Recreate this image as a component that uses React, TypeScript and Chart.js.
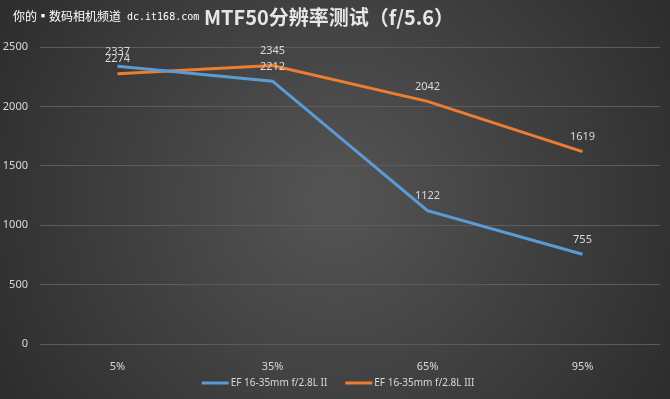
import React, { useEffect, useRef } from "react";
import { Chart, registerables } from "chart.js";

Chart.register(...registerables);

const categories = ["5%", "35%", "65%", "95%"];
const seriesIIName = "EF 16-35mm f/2.8L II";
const seriesIIIName = "EF 16-35mm f/2.8L III";
const seriesII = [2337, 2212, 1122, 755];
const seriesIII = [2274, 2345, 2042, 1619];
const yTicks = [0, 500, 1000, 1500, 2000, 2500];
const titleText = "MTF50分辨率测试（f/5.6）";
const watermarkCn = "你的▪数码相机频道";
const watermarkUrl = "dc.it168.com";

const BLUE = "#5b9bd5";
const ORANGE = "#ed7d31";
const TEXT = "#d9d9d9";

const bgPlugin = {
  id: "bgPlugin",
  beforeDraw(chart: any) {
    const { ctx, width, height } = chart;
    ctx.save();
    const g = ctx.createRadialGradient(width / 2, height / 2, 20, width / 2, height / 2, width * 0.62);
    g.addColorStop(0, "#535353");
    g.addColorStop(1, "#2a2a2a");
    ctx.fillStyle = g;
    ctx.fillRect(0, 0, width, height);
    ctx.restore();
  },
  afterDraw(chart: any) {
    const { ctx, width } = chart;
    ctx.save();
    ctx.textBaseline = "middle";
    ctx.fillStyle = "#ffffff";
    ctx.textAlign = "left";
    ctx.font = "12px 'Noto Sans CJK SC', sans-serif";
    ctx.fillText(watermarkCn, 13, 16);
    ctx.font = "10px 'DejaVu Sans Mono', monospace";
    ctx.fillText(watermarkUrl, 127, 17);
    ctx.fillStyle = "#e6e6e6";
    ctx.textAlign = "center";
    ctx.font = "bold 20px 'Noto Sans CJK SC', sans-serif";
    ctx.fillText(titleText, 329, 17);

    // legend
    ctx.font = "10px 'Noto Sans', sans-serif";
    const items = chart.data.datasets.map((ds: any) => ({
      text: ds.label,
      color: ds.borderColor,
      w: ctx.measureText(ds.label).width,
    }));
    const sw = 27;
    const gapText = 2;
    const gapItem = 18;
    let total = 0;
    items.forEach((it: any, i: number) => {
      total += sw + gapText + it.w + (i < items.length - 1 ? gapItem : 0);
    });
    let x = width / 2 + 3 - total / 2;
    const y = 383;
    ctx.textAlign = "left";
    items.forEach((it: any) => {
      ctx.fillStyle = it.color;
      ctx.fillRect(x, y - 1.5, sw, 3);
      x += sw + gapText;
      ctx.fillStyle = TEXT;
      ctx.fillText(it.text, x, y);
      x += it.w + gapItem;
    });
    ctx.restore();
  },
};

const labelPlugin = {
  id: "labelPlugin",
  afterDatasetsDraw(chart: any) {
    const { ctx } = chart;
    ctx.save();
    ctx.font = "11px 'Noto Sans', sans-serif";
    ctx.fillStyle = TEXT;
    ctx.textAlign = "center";
    ctx.textBaseline = "middle";
    chart.data.datasets.forEach((ds: any, i: number) => {
      const meta = chart.getDatasetMeta(i);
      meta.data.forEach((pt: any, j: number) => {
        ctx.fillText(String(ds.data[j]), pt.x, pt.y - 14.5);
      });
    });
    ctx.restore();
  },
};

export default function App() {
  const ref = useRef<HTMLCanvasElement>(null);
  useEffect(() => {
    document.body.style.margin = "0";
    Chart.defaults.font.family = "'Noto Sans', 'Noto Sans CJK SC', sans-serif";
    const chart = new Chart(ref.current!, {
      type: "line",
      data: {
        labels: categories,
        datasets: [
          {
            label: seriesIIName,
            data: seriesII,
            borderColor: BLUE,
            backgroundColor: BLUE,
            borderWidth: 3,
            pointRadius: 0,
            tension: 0,
          },
          {
            label: seriesIIIName,
            data: seriesIII,
            borderColor: ORANGE,
            backgroundColor: ORANGE,
            borderWidth: 3,
            pointRadius: 0,
            tension: 0,
          },
        ],
      },
      options: {
        animation: false,
        responsive: false,
        layout: { padding: { top: 47, right: 10, left: 0, bottom: 29 } },
        plugins: {
          title: { display: false },
          tooltip: { enabled: false },
          legend: { display: false },
        },
        scales: {
          x: {
            offset: true,
            grid: { display: false },
            border: { display: false },
            ticks: { color: TEXT, font: { size: 11 }, padding: 8 },
            afterFit: (s: any) => {
              s.height = 26;
            },
          },
          y: {
            min: 0,
            max: 2500,
            afterBuildTicks: (s: any) => {
              s.ticks = yTicks.map((v) => ({ value: v }));
            },
            grid: { color: "#5c5c5c", lineWidth: 1, drawTicks: false },
            border: { display: false },
            ticks: {
              color: TEXT,
              font: { size: 11 },
              padding: 12,
              callback: (v: any) => String(v),
            },
            afterFit: (s: any) => {
              s.width = 40;
            },
          },
        },
      },
      plugins: [bgPlugin, labelPlugin],
    } as any);
    return () => chart.destroy();
  }, []);
  return (
    <div style={{ position: "absolute", left: 0, top: 0, width: 670, height: 399 }}>
      <canvas ref={ref} width={670} height={399} />
    </div>
  );
}
